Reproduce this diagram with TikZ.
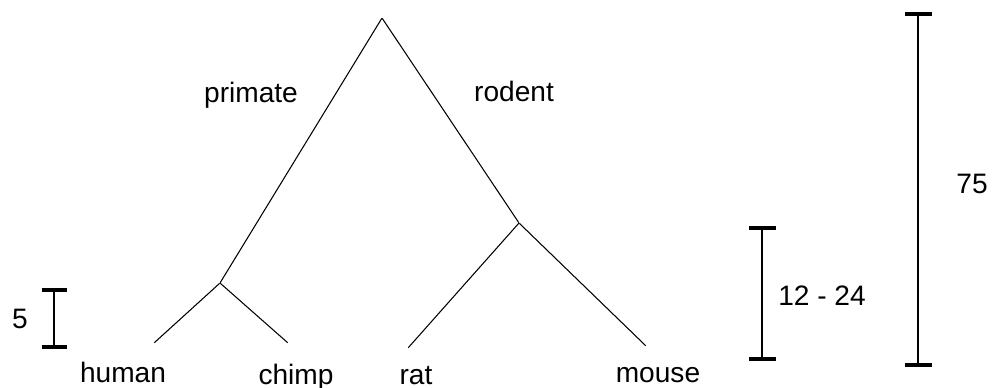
\documentclass[tikz,border=0pt]{standalone}
\usepackage{fontspec}
\setmainfont{Liberation Sans}
\usepackage{tikz}

\begin{document}
\begin{tikzpicture}
  [x=0.02cm, y=-0.02cm,
   enode/.style={minimum size=0, inner sep=0},
   tnode/.style={inner sep=0, anchor=base, font=\fontsize{16}{19}\selectfont},
   branch/.style={line width=0.6pt},
   bar/.style={line width=0.6pt},
   tick/.style={line width=1.8pt}]

  \useasboundingbox (0, 0) rectangle (993, 388);

  % tree
  \node[enode] (root) at (382, 18) {};
  \node[enode] (primate) at (220, 283) {} edge [branch] (root);
  \node[enode] (rodent) at (519, 223) {} edge [branch] (root);

  \node[enode] (human) at (154, 343) {} edge [branch] (primate);
  \node[enode] (chimp) at (288, 343) {} edge [branch] (primate);
  \node[enode] (rat) at (408, 348) {} edge [branch] (rodent);
  \node[enode] (mouse) at (646, 346) {} edge [branch] (rodent);

  % species and clade names
  \node[tnode] (humanlbl) at (123, 382) {human};
  \node[tnode] (chimplbl) at (296, 384) {chimp};
  \node[tnode] (ratlbl) at (416, 384) {rat};
  \node[tnode] (mouselbl) at (658, 382) {mouse};
  \node[tnode] (primatelbl) at (251, 103) {primate};
  \node[tnode] (rodentlbl) at (514, 102) {rodent};

  % time bars
  \coordinate (b5top) at (54, 290);
  \coordinate (b5bot) at (54, 347);
  \draw[bar] (b5top) -- (b5bot);
  \draw[tick] (42, 290) -- (67, 290);
  \draw[tick] (42, 347) -- (67, 347);
  \node[tnode] (b5lbl) at (20, 328) {5};

  \coordinate (b12top) at (762, 228);
  \coordinate (b12bot) at (762, 359);
  \draw[bar] (b12top) -- (b12bot);
  \draw[tick] (749, 228) -- (776, 228);
  \draw[tick] (749, 359) -- (776, 359);
  \node[tnode] (b12lbl) at (822, 305) {12 - 24};

  \coordinate (b75top) at (918, 14);
  \coordinate (b75bot) at (918, 365);
  \draw[bar] (b75top) -- (b75bot);
  \draw[tick] (905, 14) -- (932, 14);
  \draw[tick] (905, 365) -- (932, 365);
  \node[tnode] (b75lbl) at (972, 194) {75};

\end{tikzpicture}
\end{document}
